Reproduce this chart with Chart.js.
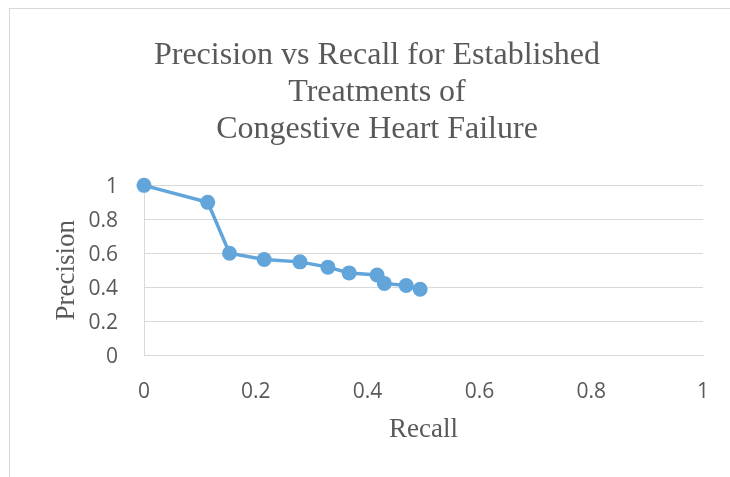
<!DOCTYPE html>
<html>
<head>
<meta charset="utf-8">
<script src="https://cdn.jsdelivr.net/npm/chart.js@4"></script>
<style>
  html, body { margin: 0; padding: 0; background: #fff; overflow: hidden; }
  body { width: 730px; height: 477px; position: relative; }
  #frame {
    position: absolute; left: 9px; top: 8px;
    border-left: 1px solid #d9d9d9; border-top: 1px solid #d9d9d9;
    width: 734px; height: 470px;
  }
  canvas { display: block; }
</style>
</head>
<body>
<div id="frame"><canvas id="prChart" width="734" height="470"></canvas></div>
<script>
// Precision / recall points
const recall = [0, 0.114, 0.153, 0.215, 0.279, 0.329, 0.367, 0.417, 0.430, 0.469, 0.494];
const precision = [1, 0.9, 0.6, 0.563, 0.549, 0.518, 0.484, 0.472, 0.422, 0.410, 0.388];

const xTicks = [0, 0.2, 0.4, 0.6, 0.8, 1];
const yTicks = [0, 0.2, 0.4, 0.6, 0.8, 1];

const tituloLineas = ['Precision vs Recall for Established', 'Treatments of', 'Congestive Heart Failure'];

const gris = '#595959';
const lineaGris = '#d9d9d9';
const azul = '#62a5db';
const serif = '"Liberation Serif", serif';
const sans = '"Open Sans", sans-serif';

const puntos = recall.map((r, i) => ({ x: r, y: precision[i] }));

new Chart(document.getElementById('prChart'), {
  type: 'scatter',
  data: {
    datasets: [{
      data: puntos,
      showLine: true,
      borderColor: azul,
      backgroundColor: azul,
      borderWidth: 3.5,
      pointRadius: 7.5,
      pointHoverRadius: 7.5,
      pointBorderWidth: 0,
      clip: false
    }]
  },
  options: {
    responsive: false,
    animation: false,
    devicePixelRatio: 1,
    // padding simétrico para que el título quede centrado en el marco
    layout: { padding: { left: 41, right: 41, top: 0, bottom: 0 } },
    plugins: {
      legend: { display: false },
      tooltip: { enabled: false },
      title: {
        display: true,
        text: tituloLineas,
        color: gris,
        font: { family: serif, size: 32, weight: 400, lineHeight: 1.16 },
        padding: { top: 28, bottom: 37 }
      }
    },
    scales: {
      x: {
        type: 'linear',
        min: 0, max: 1,
        afterBuildTicks: s => { s.ticks = xTicks.map(v => ({ value: v })); },
        afterFit: s => { s.height = 124; },
        grid: { display: false },
        border: { display: true, color: lineaGris, width: 1 },
        ticks: {
          color: gris,
          padding: 16,
          maxRotation: 0,
          callback: v => String(v),
          font: { family: sans, size: 21 }
        },
        title: {
          display: true,
          text: 'Recall',
          color: gris,
          font: { family: serif, size: 27 },
          padding: { top: 0, bottom: 33 }
        }
      },
      y: {
        type: 'linear',
        min: 0, max: 1,
        afterBuildTicks: s => { s.ticks = yTicks.map(v => ({ value: v })); },
        afterFit: s => { s.width = 93; },
        grid: { color: lineaGris, lineWidth: 1, drawTicks: false },
        border: { display: true, color: lineaGris, width: 1 },
        ticks: {
          color: gris,
          padding: 26,
          labelOffset: 2,
          callback: v => String(v),
          font: { family: sans, size: 21 }
        },
        title: {
          display: true,
          text: 'Precision',
          color: gris,
          font: { family: serif, size: 27 },
          padding: { top: 0, bottom: 0 }
        }
      }
    }
  }
});
</script>
</body>
</html>
